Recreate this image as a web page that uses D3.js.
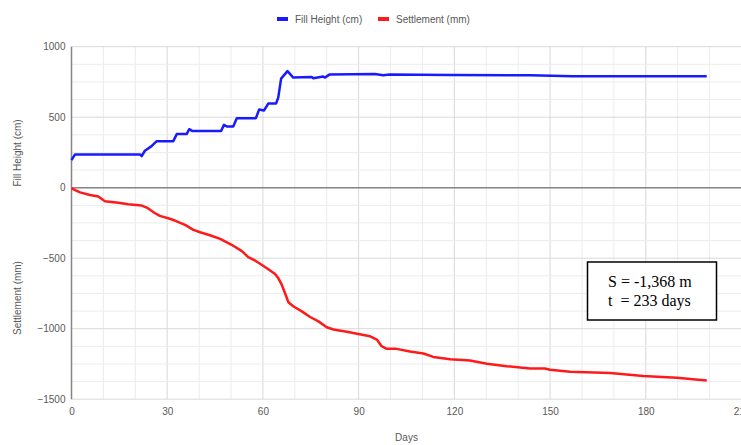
<!DOCTYPE html>
<html>
<head>
<meta charset="utf-8">
<script src="https://cdn.jsdelivr.net/npm/d3@7"></script>
<style>
  html, body { margin: 0; padding: 0; background: #fff; }
  svg { display: block; font-family: "Liberation Sans", Arial, sans-serif; }
  .note { font-family: "Liberation Serif", "Times New Roman", serif; white-space: pre; }
</style>
</head>
<body>
<svg id="chart" width="741" height="445"></svg>
<script>
// Fill height record (cm)
const fillDays   = [0, 1.1, 21.5, 22, 23, 25.1, 26.7, 31.9, 33, 36.1, 36.9, 37.8, 46.9, 47.8, 48.7, 50.7, 51.8, 57.8, 58.8, 60.3, 61.7, 64.1, 64.8, 65.7, 67.7, 69.5, 75.3, 75.8, 78.9, 79.5, 80.8, 95.1, 97.7, 99.8, 118.7, 143.7, 157.2, 189.8, 199.1];
const fillHeight = [196, 236, 236, 224, 262, 295, 330, 330, 380, 380, 415, 403, 403, 446, 434, 434, 493, 493, 554, 547, 597, 597, 639, 774, 827, 781, 785, 776, 788, 781, 802, 806, 797, 802, 800, 797, 790, 791, 790];

// Settlement record (mm)
const settleDays = [0, 2.7, 5.8, 8.4, 10.5, 14.7, 17.8, 22, 23.6, 26.2, 27.7, 30.3, 32.4, 35.6, 38.2, 40.3, 43.4, 46.6, 50.2, 53.4, 55.4, 57.5, 59.6, 61.7, 63.8, 64.8, 65.9, 66.9, 68, 69.5, 72.2, 74.8, 77.4, 80, 82.1, 86.3, 89.9, 93.6, 95.7, 97.2, 98.8, 101.9, 106.1, 110.3, 113.4, 118.7, 124.9, 130.2, 136.4, 143.7, 148.4, 150, 156.3, 168.8, 179.2, 189.7, 199.1];
const settlement = [-4, -33, -52, -63, -96, -106, -118, -127, -141, -181, -200, -217, -233, -264, -299, -316, -337, -363, -405, -450, -492, -516, -547, -578, -612, -641, -688, -747, -813, -841, -877, -917, -948, -990, -1006, -1021, -1037, -1054, -1077, -1124, -1143, -1143, -1162, -1176, -1200, -1216, -1226, -1249, -1266, -1282, -1282, -1291, -1306, -1315, -1336, -1348, -1368];

const xTicks = [0, 30, 60, 90, 120, 150, 180, 210];
const yTicks = [1000, 500, 0, -500, -1000, -1500];
const legendLabels = ["Fill Height (cm)", "Settlement (mm)"];
const seriesColors = ["#1a1aff", "#ff1a1a"];
const noteLines = ["S = -1,368 m", "t  = 233 days"];

(function draw() {
  const svg = d3.select("#chart");
  const plotL = 71.5, plotR = 741.5, plotT = 46.7, plotB = 399.2;

  const x = d3.scaleLinear().domain([0, 210]).range([plotL, plotR]);
  const y = d3.scaleLinear().domain([-1500, 1000]).range([plotB, plotT]);

  // gridlines: minor every 10 days / 125 units, major at labelled ticks
  const grid = svg.append("g");
  grid.selectAll("line.v")
    .data(d3.range(0, 211, 10))
    .join("line")
    .attr("x1", d => x(d)).attr("x2", d => x(d))
    .attr("y1", plotT).attr("y2", plotB)
    .attr("stroke", d => d % 30 === 0 ? "#d9d9d9" : "#ececec")
    .attr("stroke-width", 1);
  grid.selectAll("line.h")
    .data(d3.range(-1500, 1001, 125))
    .join("line")
    .attr("x1", plotL).attr("x2", plotR)
    .attr("y1", d => y(d)).attr("y2", d => y(d))
    .attr("stroke", d => d % 500 === 0 ? "#d9d9d9" : "#ececec")
    .attr("stroke-width", 1);

  // zero line and left axis
  svg.append("line")
    .attr("x1", plotL).attr("x2", plotR)
    .attr("y1", y(0)).attr("y2", y(0))
    .attr("stroke", "#858585").attr("stroke-width", 1.5);
  svg.append("line")
    .attr("x1", plotL).attr("x2", plotL)
    .attr("y1", plotT).attr("y2", plotB)
    .attr("stroke", "#858585").attr("stroke-width", 1.5);

  // tick labels
  const yAxis = d3.axisLeft(y).tickValues(yTicks).tickSize(0).tickPadding(6).tickFormat(d3.format("d"));
  const gy = svg.append("g").attr("transform", `translate(${plotL},0)`).call(yAxis);
  gy.select(".domain").remove();
  gy.selectAll("text").attr("fill", "#595959").attr("font-size", 10).attr("font-family", null);

  const xAxis = d3.axisBottom(x).tickValues(xTicks).tickSize(0).tickPadding(9).tickFormat(d3.format("d"));
  const gx = svg.append("g").attr("transform", `translate(0,${plotB})`).call(xAxis);
  gx.select(".domain").remove();
  gx.selectAll("text").attr("fill", "#595959").attr("font-size", 10).attr("font-family", null);
  gy.attr("font-family", null);
  gx.attr("font-family", null);

  // axis titles
  svg.append("text")
    .attr("transform", "translate(21,153) rotate(-90)")
    .attr("text-anchor", "middle").attr("fill", "#595959").attr("font-size", 10)
    .text("Fill Height (cm)");
  svg.append("text")
    .attr("transform", "translate(21,298) rotate(-90)")
    .attr("text-anchor", "middle").attr("fill", "#595959").attr("font-size", 10)
    .text("Settlement (mm)");
  svg.append("text")
    .attr("x", (plotL + plotR) / 2).attr("y", 441)
    .attr("text-anchor", "middle").attr("fill", "#595959").attr("font-size", 10)
    .text("Days");

  // series lines
  const line = d3.line().x(d => x(d[0])).y(d => y(d[1]));
  svg.append("path")
    .datum(fillDays.map((d, i) => [d, fillHeight[i]]))
    .attr("d", line).attr("fill", "none")
    .attr("stroke", seriesColors[0]).attr("stroke-width", 2.5)
    .attr("stroke-linejoin", "round");
  svg.append("path")
    .datum(settleDays.map((d, i) => [d, settlement[i]]))
    .attr("d", line).attr("fill", "none")
    .attr("stroke", seriesColors[1]).attr("stroke-width", 2.5)
    .attr("stroke-linejoin", "round");

  // legend
  const legendX = [277, 378];
  legendLabels.forEach((lab, i) => {
    svg.append("line")
      .attr("x1", legendX[i]).attr("x2", legendX[i] + 11)
      .attr("y1", 19).attr("y2", 19)
      .attr("stroke", seriesColors[i]).attr("stroke-width", 4);
    svg.append("text")
      .attr("x", legendX[i] + 18).attr("y", 22.5)
      .attr("fill", "#595959").attr("font-size", 10)
      .text(lab);
  });

  // annotation box
  svg.append("rect")
    .attr("x", 587.5).attr("y", 262).attr("width", 129).attr("height", 58)
    .attr("fill", "#fff").attr("stroke", "#000").attr("stroke-width", 1.5);
  noteLines.forEach((t, i) => {
    svg.append("text")
      .attr("class", "note")
      .attr("x", 608).attr("y", 287 + i * 18.5)
      .attr("font-size", 16).attr("fill", "#000")
      .text(t);
  });
})();
</script>
</body>
</html>
